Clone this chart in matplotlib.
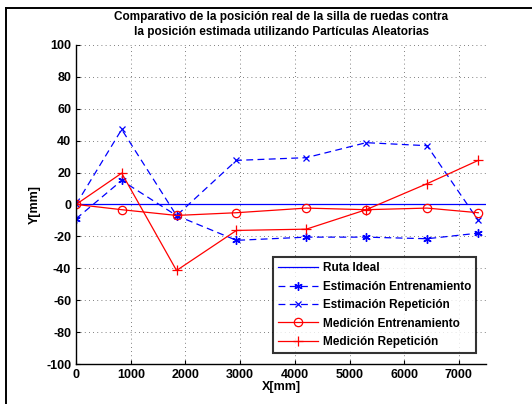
import matplotlib
matplotlib.use("Agg")
import matplotlib.pyplot as plt
from matplotlib.lines import Line2D

plt.rcParams["font.family"] = ["Liberation Sans", "DejaVu Sans"]
plt.rcParams["font.weight"] = "bold"
plt.rcParams["axes.unicode_minus"] = False

# Data
x_pts = [0, 834, 1837, 2932, 4210, 5304, 6418, 7354]
ideal_x = [0, 7500]
ideal_y = [0, 0]
est_entren = [-9, 15, -7, -22.5, -20.5, -20.5, -21.5, -18]
est_repet = [0, 47, -7, 27.6, 29.3, 38.7, 36.8, -10]
med_entren = [0, -3.3, -6.9, -5.2, -2.3, -3.3, -2.3, -5.2]
med_repet = [0, 19.6, -41.4, -16.3, -15.5, -3.3, 13, 27.6]

labels = ["Ruta Ideal", "Estimación Entrenamiento", "Estimación Repetición",
          "Medición Entrenamiento", "Medición Repetición"]
title = ("Comparativo de la posición real de la silla de ruedas contra\n"
         "la posición estimada utilizando Partículas Aleatorias")
xticks = list(range(0, 7001, 1000))
yticks = list(range(-100, 101, 20))

fig = plt.figure(figsize=(5.32, 4.04), dpi=100, facecolor="white")
ax = fig.add_axes([0.143, 0.099, 0.771, 0.79])

dash = (0, (5.5, 3.5))
lw = 0.9
ax.plot(ideal_x, ideal_y, color="blue", lw=lw, label=labels[0])
ax.plot(x_pts, est_entren, color="blue", lw=lw, ls=dash, marker=(6, 2, 0),
        ms=6, mew=1.0, label=labels[1])
ax.plot(x_pts, est_repet, color="blue", lw=lw, ls=dash, marker="x",
        ms=5, mew=0.9, label=labels[2])
ax.plot(x_pts, med_entren, color="red", lw=lw, marker="o", ms=6,
        mfc="none", mew=0.9, label=labels[3])
ax.plot(x_pts, med_repet, color="red", lw=lw, marker="+", ms=7,
        mew=0.9, label=labels[4])

ax.set_xlim(0, 7500)
ax.set_ylim(-100, 100)
ax.set_xticks(xticks)
ax.set_yticks(yticks)
ax.tick_params(direction="in", length=3, width=0.8, labelsize=9)
for lab in ax.get_xticklabels() + ax.get_yticklabels():
    lab.set_fontweight("bold")
ax.grid(True, color="#555555", ls=(0, (1, 4)), lw=0.6)
ax.spines["top"].set_visible(False)
ax.spines["right"].set_visible(False)
for s in ("left", "bottom"):
    ax.spines[s].set_linewidth(1.0)

ax.set_xlabel("X[mm]", fontsize=9, fontweight="bold", labelpad=0)
ax.set_ylabel("Y[mm]", fontsize=9, fontweight="bold", labelpad=4)
ax.set_title(title, fontsize=8.5, fontweight="bold", pad=7, linespacing=1.3)

leg = ax.legend(loc="lower right", bbox_to_anchor=(0.975, 0.035), fontsize=8.5,
                frameon=True, fancybox=False, edgecolor="black",
                borderpad=0.4, labelspacing=0.55, handlelength=3.4,
                handletextpad=0.4, borderaxespad=0)
leg.get_frame().set_linewidth(1.5)
for t in leg.get_texts():
    t.set_fontweight("bold")

# outer frame (top and left edges)
fig.add_artist(Line2D([6 / 532, 1], [1 - 8 / 404, 1 - 8 / 404],
                      transform=fig.transFigure, color="black", lw=1.4))
fig.add_artist(Line2D([6 / 532, 6 / 532], [0, 1 - 8 / 404],
                      transform=fig.transFigure, color="black", lw=1.4))

fig.savefig("out.png", dpi=100, facecolor="white")
